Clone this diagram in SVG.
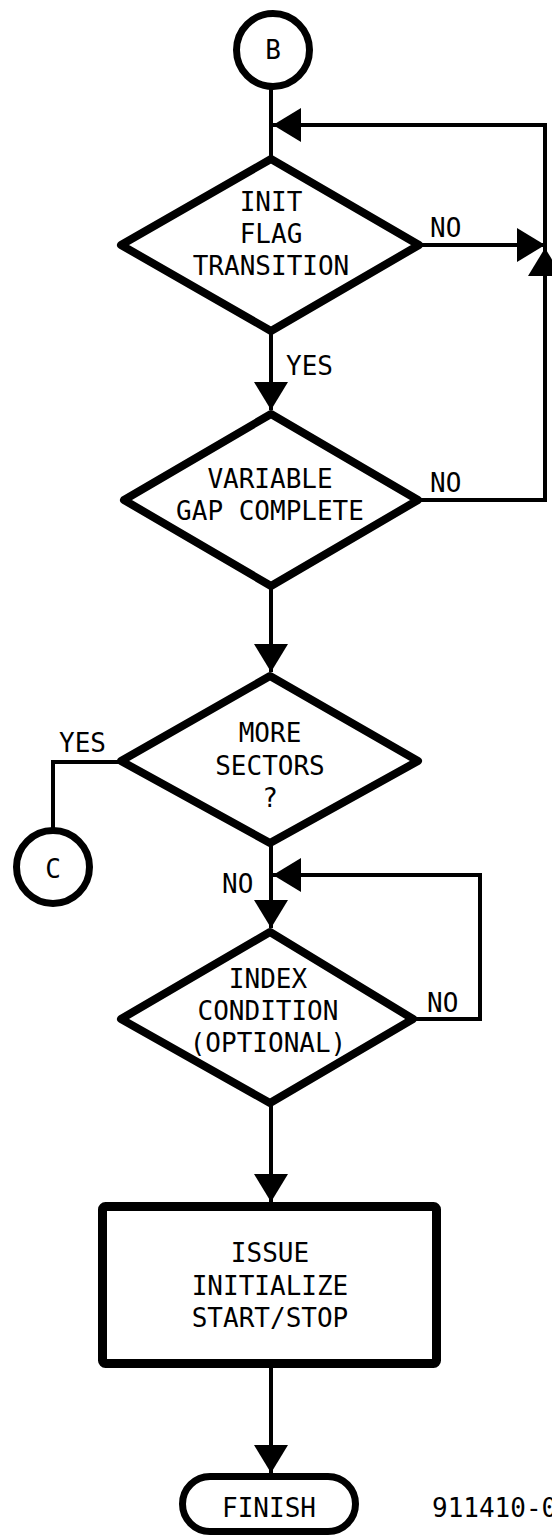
<svg xmlns="http://www.w3.org/2000/svg" width="552" height="1537" viewBox="0 0 552 1537">
<style>
  .shape { fill: #fff; stroke: #000; stroke-width: 8; stroke-linejoin: round; }
  .circ { fill: #fff; stroke: #000; stroke-width: 7; }
  .conn { fill: none; stroke: #000; stroke-width: 4; stroke-linejoin: miter; }
  text { font-family: "DejaVu Sans Mono", "Liberation Mono", monospace; font-size: 26px; fill: #000; }
  .c { text-anchor: middle; }
</style>
<defs>
  <marker id="arr" viewBox="0 0 28 34" refX="28" refY="17" markerWidth="28" markerHeight="34" markerUnits="userSpaceOnUse" orient="auto">
    <path d="M0,0 L28,17 L0,34 Z" fill="#000"/>
  </marker>
</defs>
<rect width="552" height="1537" fill="#fff"/>
<g id="connectors">
  <path class="conn" d="M271,87 L271,157"/>
  <path class="conn" d="M419,245 L545,245" marker-end="url(#arr)"/>
  <path class="conn" d="M418,500 L545,500 L545,248" marker-end="url(#arr)"/>
  <path class="conn" d="M545,248 L545,125 L273,125" marker-end="url(#arr)"/>
  <path class="conn" d="M271,333 L271,410" marker-end="url(#arr)"/>
  <path class="conn" d="M271,588 L271,672" marker-end="url(#arr)"/>
  <path class="conn" d="M121,762 L53,762 L53,831"/>
  <path class="conn" d="M271,846 L271,928" marker-end="url(#arr)"/>
  <path class="conn" d="M415,1019 L480,1019 L480,875 L273,875" marker-end="url(#arr)"/>
  <path class="conn" d="M271,1105 L271,1202" marker-end="url(#arr)"/>
  <path class="conn" d="M271,1366 L271,1473" marker-end="url(#arr)"/>
  <text x="430" y="237">NO</text>
  <text x="286" y="375">YES</text>
  <text x="430" y="492">NO</text>
  <text x="59" y="752">YES</text>
  <text x="222" y="893">NO</text>
  <text x="427" y="1012">NO</text>
</g>
<g id="B">
  <circle class="circ" cx="273" cy="50" r="36.5"/>
  <text class="c" x="273" y="59">B</text>
</g>
<g id="init_flag">
  <polygon class="shape" points="271,159 419,245 271,331 121,245"/>
  <text class="c" x="271" y="211">INIT</text>
  <text class="c" x="271" y="243">FLAG</text>
  <text class="c" x="271" y="275">TRANSITION</text>
</g>
<g id="variable_gap">
  <polygon class="shape" points="271,414 418,500 271,586 124,500"/>
  <text class="c" x="270" y="488">VARIABLE</text>
  <text class="c" x="270" y="520">GAP COMPLETE</text>
</g>
<g id="more_sectors">
  <polygon class="shape" points="270,676 418,761 270,843 121,761"/>
  <text class="c" x="270" y="742">MORE</text>
  <text class="c" x="270" y="775">SECTORS</text>
  <text class="c" x="270" y="807">?</text>
</g>
<g id="C">
  <circle class="circ" cx="53" cy="867" r="36.5"/>
  <text class="c" x="53" y="878">C</text>
</g>
<g id="index_condition">
  <polygon class="shape" points="270,932 413,1019 270,1103 121,1019"/>
  <text class="c" x="268" y="988">INDEX</text>
  <text class="c" x="268" y="1020">CONDITION</text>
  <text class="c" x="268" y="1052">(OPTIONAL)</text>
</g>
<g id="issue_init">
  <rect x="102.5" y="1206.5" width="334" height="157" rx="3" fill="#fff" stroke="#000" stroke-width="9"/>
  <text class="c" x="270" y="1262">ISSUE</text>
  <text class="c" x="270" y="1295">INITIALIZE</text>
  <text class="c" x="270" y="1327">START/STOP</text>
</g>
<g id="finish">
  <rect x="182.5" y="1476.5" width="173" height="55" rx="27.5" fill="#fff" stroke="#000" stroke-width="7"/>
  <text class="c" x="269" y="1517">FINISH</text>
</g>
<g id="label">
  <text x="432" y="1517">911410-0</text>
</g>
</svg>
